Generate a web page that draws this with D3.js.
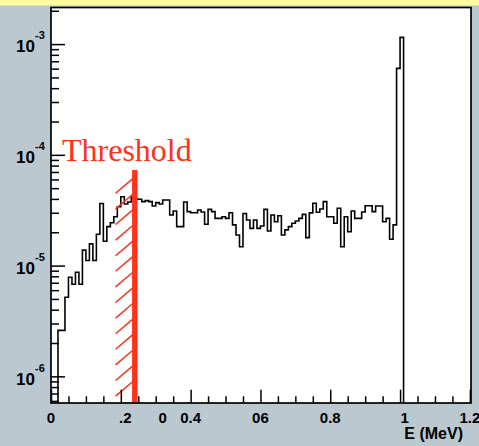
<!DOCTYPE html>
<html>
<head>
<meta charset="utf-8">
<script src="https://cdn.jsdelivr.net/npm/d3@7/dist/d3.min.js"></script>
<style>
  html, body { margin: 0; padding: 0; background: #bcc8d0; }
  svg { display: block; }
</style>
</head>
<body>
<svg id="chart" width="479" height="446"></svg>
<script>
// Energy spectrum, 0.01 MeV bins starting at E = 0
const binWidth = 0.01;
const binContent = [
  0, 0, 2.6e-6, 2.6e-6, 5.17e-6, 7.84e-6, 6.78e-6, 8.7e-6, 6.78e-6, 1.38e-5,
  1.11e-5, 1.57e-5, 1.11e-5, 1.92e-5, 3.64e-5, 1.66e-5, 2.25e-5, 2.44e-5, 2.76e-5, 3.40e-5,
  4.19e-5, 3.60e-5, 3.75e-5, 4.16e-5, 3.99e-5, 3.97e-5, 3.78e-5, 3.86e-5, 3.78e-5, 3.45e-5,
  3.70e-5, 3.60e-5, 3.91e-5, 3.91e-5, 2.86e-5, 3.11e-5, 2.25e-5, 2.25e-5, 3.75e-5, 3.07e-5,
  3.00e-5, 3.00e-5, 3.18e-5, 3.05e-5, 2.36e-5, 3.22e-5, 3.07e-5, 2.67e-5, 2.67e-5, 2.76e-5,
  2.67e-5, 3.00e-5, 2.33e-5, 1.89e-5, 1.48e-5, 2.95e-5, 2.58e-5, 2.17e-5, 2.58e-5, 2.17e-5,
  2.28e-5, 3.22e-5, 2.05e-5, 2.86e-5, 2.49e-5, 2.82e-5, 1.89e-5, 2.10e-5, 2.25e-5, 2.41e-5,
  2.53e-5, 2.67e-5, 2.90e-5, 1.79e-5, 2.99e-5, 3.65e-5, 3.03e-5, 3.24e-5, 3.78e-5, 2.76e-5,
  2.76e-5, 2.41e-5, 3.29e-5, 1.48e-5, 2.76e-5, 2.02e-5, 3.11e-5, 2.67e-5, 2.67e-5, 3.05e-5,
  3.47e-5, 3.47e-5, 3.07e-5, 3.45e-5, 3.45e-5, 2.49e-5, 2.67e-5, 1.73e-5, 2.33e-5, 6.04e-4,
  1.15e-3
];

// Axis ticks and labels
const xMajorTicks = [0, 0.2, 0.4, 0.6, 0.8, 1.0, 1.2];
const xMinorTicks = [0.05, 0.1, 0.15, 0.25, 0.3, 0.35, 0.45, 0.5, 0.55, 0.65, 0.7, 0.75,
                     0.85, 0.9, 0.95, 1.05, 1.1, 1.15];
const xLabelPos  = [0, 0.213, 0.32, 0.4, 0.6, 0.8, 1.013, 1.2];
const xLabelText = ["0", ".2", "0", "0.4", "06", "0.8", "1", "1.2"];
const yDecades = [-3, -4, -5, -6];
const yMinorMultipliers = [2, 3, 4, 5, 6, 7, 8, 9];
const xTitle = "E (MeV)";

// Threshold marker
const thresholdE = 0.24;
const thresholdTop = 7.3e-5;
const hatchFromE = 0.185;
const thresholdText = "Threshold";

const W = 479, H = 446;
const plot = { left: 51, top: 7.5, right: 471, bottom: 403 };

const svg = d3.select("#chart");

svg.append("rect").attr("x", 0).attr("y", 0).attr("width", W).attr("height", H)
  .attr("fill", "#bcc8d0");
svg.append("rect").attr("x", 0).attr("y", 0).attr("width", W).attr("height", 5.5)
  .attr("fill", "#fffaa0");
svg.append("rect")
  .attr("x", plot.left).attr("y", plot.top)
  .attr("width", plot.right - plot.left).attr("height", plot.bottom - plot.top)
  .attr("fill", "#ffffff");

const x = d3.scaleLinear().domain([0, 1.2032]).range([plot.left, plot.right]);
const y = d3.scaleLog().domain([5.745e-7, 2.14e-3]).range([plot.bottom, plot.top]);

svg.append("defs").append("clipPath").attr("id", "plotClip")
  .append("rect")
  .attr("x", plot.left).attr("y", plot.top)
  .attr("width", plot.right - plot.left).attr("height", plot.bottom - plot.top);

// Histogram outline
const pts = [];
binContent.forEach((v, k) => {
  const yy = v > 0 ? y(v) : plot.bottom + 5;
  pts.push([x(k * binWidth), yy]);
  pts.push([x((k + 1) * binWidth), yy]);
});
pts.push([x(binContent.length * binWidth), plot.bottom + 5]);

svg.append("path")
  .attr("clip-path", "url(#plotClip)")
  .attr("d", d3.line()(pts))
  .attr("fill", "none")
  .attr("stroke", "#000")
  .attr("stroke-width", 1.6)
  .attr("stroke-linejoin", "miter");

// Threshold hatch and line
const red = "#ff3119";
const hx0 = x(hatchFromE), hx1 = x(thresholdE) - 2;
const hatch = svg.append("g").attr("clip-path", "url(#plotClip)");
for (let i = 0; i < 14; i++) {
  const yl = 193.3 + i * 15.6;
  hatch.append("line")
    .attr("x1", hx0).attr("y1", yl)
    .attr("x2", hx1).attr("y2", yl - (hx1 - hx0) * 0.85)
    .attr("stroke", red).attr("stroke-width", 1.5);
}
svg.append("line")
  .attr("x1", x(thresholdE)).attr("x2", x(thresholdE))
  .attr("y1", y(thresholdTop)).attr("y2", plot.bottom)
  .attr("stroke", red).attr("stroke-width", 5.4);

// Axes
function styleAxis(g) {
  g.select(".domain").remove();
  g.selectAll(".tick line").attr("stroke", "#000").attr("stroke-width", 1.5);
  g.selectAll(".tick text").remove();
}
svg.append("g").attr("transform", `translate(0,${plot.bottom})`)
  .call(d3.axisBottom(x).tickValues(xMajorTicks).tickSizeInner(-13.3).tickSizeOuter(0))
  .call(styleAxis);
svg.append("g").attr("transform", `translate(0,${plot.bottom})`)
  .call(d3.axisBottom(x).tickValues(xMinorTicks).tickSizeInner(-6.7).tickSizeOuter(0))
  .call(styleAxis);

const yMajorVals = yDecades.map(d => Math.pow(10, d));
const yMinorVals = [];
[-7, -6, -5, -4, -3].forEach(d => yMinorMultipliers.forEach(m => {
  const v = m * Math.pow(10, d);
  if (v > y.domain()[0] && v < y.domain()[1]) yMinorVals.push(v);
}));
svg.append("g").attr("transform", `translate(${plot.left},0)`)
  .call(d3.axisLeft(y).tickValues(yMajorVals).tickSizeInner(-14).tickSizeOuter(0))
  .call(styleAxis);
svg.append("g").attr("transform", `translate(${plot.left},0)`)
  .call(d3.axisLeft(y).tickValues(yMinorVals).tickSizeInner(-8).tickSizeOuter(0))
  .call(styleAxis);

// Frame
svg.append("rect")
  .attr("x", plot.left).attr("y", plot.top)
  .attr("width", plot.right - plot.left).attr("height", plot.bottom - plot.top)
  .attr("fill", "none").attr("stroke", "#000").attr("stroke-width", 1.7);

// Labels
const font = "'Liberation Sans', Arial, Helvetica, sans-serif";
svg.append("g").selectAll("text").data(xLabelPos).join("text")
  .attr("x", d => x(d)).attr("y", 423)
  .attr("text-anchor", "middle")
  .attr("font-family", font).attr("font-weight", "bold").attr("font-size", 15)
  .text((d, i) => xLabelText[i]);

const yl = svg.append("g");
yDecades.forEach(d => {
  const yy = y(Math.pow(10, d));
  yl.append("text").attr("x", 35).attr("y", yy + 8.3)
    .attr("text-anchor", "end")
    .attr("font-family", font).attr("font-weight", "bold").attr("font-size", 17)
    .text("10");
  yl.append("text").attr("x", 35).attr("y", yy - 4.6)
    .attr("font-family", font).attr("font-weight", "bold").attr("font-size", 11)
    .text(String(d));
});

svg.append("text").attr("x", 463).attr("y", 438.5)
  .attr("text-anchor", "end")
  .attr("font-family", font).attr("font-weight", "bold").attr("font-size", 16)
  .text(xTitle);

svg.append("text").attr("x", 62).attr("y", 161)
  .attr("font-family", "'Liberation Serif', 'Times New Roman', serif")
  .attr("font-size", 32)
  .attr("fill", red)
  .text(thresholdText);
</script>
</body>
</html>
